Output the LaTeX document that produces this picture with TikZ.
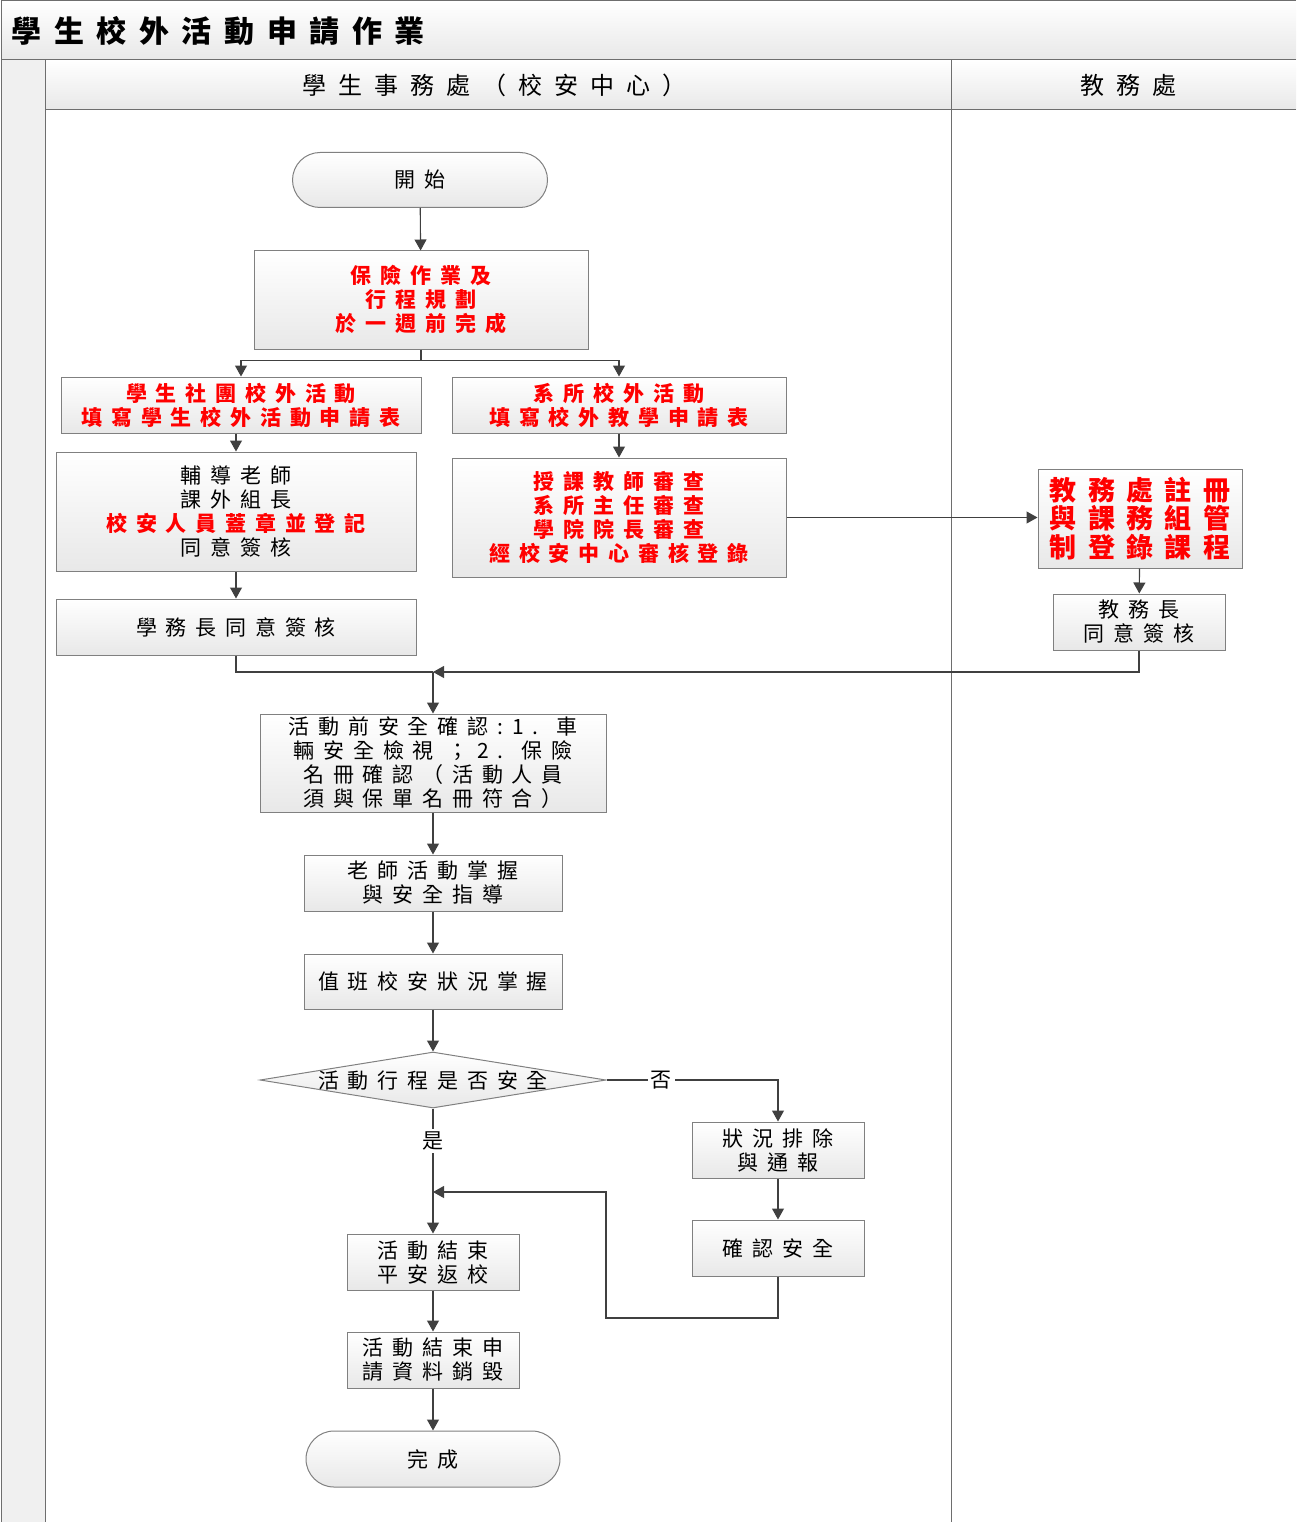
\documentclass[tikz,border=0pt]{standalone}
\usepackage{fontspec}
\usetikzlibrary{arrows.meta,positioning,shapes.geometric,shapes.misc}
\newfontfamily\cjk{Noto Sans CJK TC}[LetterSpace=42]
\newfontfamily\cjkwide{Noto Sans CJK TC}[LetterSpace=50]
\definecolor{laneLine}{RGB}{110,110,110}
\definecolor{boxLine}{RGB}{128,128,128}
\definecolor{boxBottom}{RGB}{232,232,232}
\definecolor{flowArrow}{RGB}{64,64,64}
\definecolor{alertRed}{RGB}{255,0,0}
\tikzset{
  box/.style={draw=boxLine, top color=white, bottom color=boxBottom, line width=1pt,
              align=center, inner sep=2pt, font=\cjk\fontsize{21}{24}\selectfont},
  redbox/.style={box, text=alertRed, font=\cjk\bfseries\fontsize{21}{24}\selectfont},
  term/.style={box, rounded rectangle},
  decision/.style={box, diamond, inner sep=0pt},
  arrow/.style={-{Triangle[length=11pt,width=12pt]}, line width=1.1pt, draw=flowArrow},
  line/.style={line width=1.1pt, draw=flowArrow},
  lane/.style={draw=laneLine, line width=1pt},
  tag/.style={fill=white, inner sep=3pt, font=\cjk\fontsize{21}{24}\selectfont}
}
\begin{document}
\begin{tikzpicture}[x=1pt, y=-1pt]
\useasboundingbox (0,0) rectangle (1296,1522);
% swimlane frame
\fill[gray!12] (1,60) rectangle (45,1522);
\shade[top color=white, bottom color=boxBottom] (1,1) rectangle (1296,60);
\shade[top color=white, bottom color=boxBottom] (45,60) rectangle (1296,110);
\draw[lane] (1,1522) -- (1,1) -- (1296,1);
\draw[lane] (1,60) -- (1296,60);
\draw[lane] (45,110) -- (1296,110);
\draw[lane] (45,60) -- (45,1522);
\draw[lane] (951,60) -- (951,1522);
\node[anchor=west, font=\cjk\bfseries\fontsize{30}{32}\selectfont] (title) at (8,31) {學生校外活動申請作業};
\node[font=\cjkwide\fontsize{24}{26}\selectfont] (laneA) at (494,85) {學生事務處（校安中心）};
\node[font=\cjkwide\fontsize{24}{26}\selectfont] (laneB) at (1128,85) {教務處};

% nodes
\node[term, minimum width=259pt, minimum height=55pt] (start) at (420,180) {開始};
\node[redbox, minimum width=334pt, minimum height=98pt] (plan) at (421,300) {保險作業及\\行程規劃\\於一週前完成};
\node[redbox, minimum width=360pt, minimum height=56pt] (club) at (241,405) {學生社團校外活動\\填寫學生校外活動申請表};
\node[redbox, minimum width=334pt, minimum height=56pt] (dept) at (619,405) {系所校外活動\\填寫校外教學申請表};
\node[box, minimum width=360pt, minimum height=119pt] (advisor) at (236,511.5) {輔導老師\\課外組長\\{\color{alertRed}\bfseries 校安人員蓋章並登記}\\同意簽核};
\node[redbox, minimum width=334pt, minimum height=119pt] (review) at (619,517.5) {授課教師審查\\系所主任審查\\學院院長審查\\經校安中心審核登錄};
\node[box, minimum width=360pt, minimum height=56pt] (dean) at (236,627) {學務長同意簽核};
\node[redbox, minimum width=204pt, minimum height=99pt, font=\cjk\bfseries\fontsize{27}{28.5}\selectfont] (register) at (1140,518.5) {教務處註冊\\與課務組管\\制登錄課程};
\node[box, minimum width=172pt, minimum height=56pt] (provost) at (1139,622) {教務長\\同意簽核};
\node[box, minimum width=346pt, minimum height=98pt] (precheck) at (433,763) {活動前安全確認:1. 車\\輛安全檢視 ；2. 保險\\名冊確認（活動人員\\須與保單名冊符合）};
\node[box, minimum width=258pt, minimum height=56pt] (guide) at (433,883) {老師活動掌握\\與安全指導};
\node[box, minimum width=258pt, minimum height=55pt] (duty) at (433,981.5) {值班校安狀況掌握};
\node[decision, minimum width=346pt, minimum height=56pt,
      label={[font=\cjk\fontsize{21}{24}\selectfont]center:活動行程是否安全}] (safe) at (433,1080) {};
\node[box, minimum width=172pt, minimum height=56pt] (fix) at (778,1150) {狀況排除\\與通報};
\node[box, minimum width=172pt, minimum height=56pt] (confirm) at (778,1248) {確認安全};
\node[box, minimum width=172pt, minimum height=56pt] (back) at (433,1262) {活動結束\\平安返校};
\node[box, minimum width=172pt, minimum height=56pt] (purge) at (433,1360) {活動結束申\\請資料銷毀};
\node[term, minimum width=258pt, minimum height=56pt] (finish) at (433,1459) {完成};

\coordinate (merge) at (433,672);
\coordinate (rejoin) at (433,1192);
\coordinate (loopturn) at (606,1318);

% connectors
\draw[arrow] (start) -- (plan);
\draw[line] (plan.south) -- ++(0,11) coordinate (split);
\draw[arrow] (split) -| (club);
\draw[arrow] (split) -| (dept);
\draw[arrow] (advisor.north |- club.south) -- (advisor.north);
\draw[arrow] (dept) -- (review);
\draw[arrow] (advisor) -- (dean);
\draw[arrow] (review.east) -- (review.east -| register.west);
\draw[arrow] (register) -- (provost);
\draw[line] (dean.south) |- (merge);
\draw[arrow] (provost.south) |- (merge);
\draw[arrow] (merge) -- (precheck);
\draw[arrow] (precheck) -- (guide);
\draw[arrow] (guide) -- (duty);
\draw[arrow] (duty) -- (safe);
\draw[arrow] (safe.east) -| node[tag, pos=0.16]{否} (fix);
\draw[arrow] (safe) -- node[tag, pos=0.26]{是} (back);
\draw[arrow] (fix) -- (confirm);
\draw[arrow] (confirm.south) |- (loopturn) |- (rejoin);
\draw[arrow] (back) -- (purge);
\draw[arrow] (purge) -- (finish);
\end{tikzpicture}
\end{document}
